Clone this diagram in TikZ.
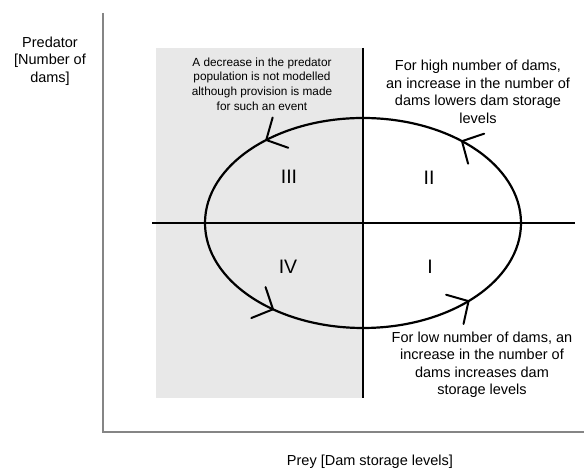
\documentclass[tikz,border=0pt]{standalone}
\usepackage{fontspec}
\setmainfont{Liberation Sans}
\usetikzlibrary{decorations.markings}

\begin{document}
\begin{tikzpicture}[
    x=1pt, y=1pt,
    axis/.style={
        draw=black!48,
        line width=2.6pt
    },
    quadline/.style={
        draw,
        line width=2pt
    },
    barb/.style={
        draw,
        line width=2pt,
        line cap=round
    },
    orbit/.style={
        draw,
        line width=2.2pt,
        postaction={decorate},
        decoration={markings,
            mark=at position 0.127 with {\draw[barb] (-16pt,17pt) -- (0pt,0pt) -- (-16pt,-17pt);},
            mark=at position 0.370 with {\draw[barb] (-16pt,17pt) -- (0pt,0pt) -- (-16pt,-17pt);},
            mark=at position 0.639 with {\draw[barb] (-16pt,17pt) -- (0pt,0pt) -- (-16pt,-17pt);},
            mark=at position 0.882 with {\draw[barb] (-16pt,17pt) -- (0pt,0pt) -- (-16pt,-17pt);}
        }
    },
    numeral/.style={
        font=\fontsize{19.5}{22}\selectfont
    },
    note/.style={
        align=center,
        font=\fontsize{14.5}{17.5}\selectfont
    },
    smallnote/.style={
        align=center,
        font=\fontsize{11.8}{14.8}\selectfont
    }
]
\useasboundingbox (0,0) rectangle (584,470);

% Shaded half
\fill[black!9] (156,72) rectangle (363,422);

% Axes
\coordinate (ytop) at (103,457);
\coordinate (origin) at (103,38);
\coordinate (xend) at (584,38);
\draw[axis] (ytop) -- (origin) -- (xend);

% Quadrant lines
\coordinate (vtop) at (363,422);
\coordinate (vbot) at (363,72);
\coordinate (hleft) at (152,247);
\coordinate (hright) at (575,247);
\draw[quadline] (vtop) -- (vbot);
\draw[quadline] (hleft) -- (hright);

% Cycle
\draw[orbit] (363,247) ellipse [x radius=158, y radius=105];

% Quadrants
\node[numeral] (q3) at (289,293) {III};
\node[numeral] (q2) at (429,292) {II};
\node[numeral] (q4) at (288,203) {IV};
\node[numeral] (q1) at (430,203) {I};

% Axis labels
\node[note] (ylabel) at (50,409)
{Predator\\{[}Number of\\dams]};

\node[note, anchor=base] (xlabel) at (370,4)
{Prey [Dam storage levels]};

% Notes
\node[smallnote] (decrease) at (262,386)
{A decrease in the predator\\population is not modelled\\although provision is made\\for such an event};

\node[note] (highdams) at (478,378)
{For high number of dams,\\an increase in the number of\\dams lowers dam storage\\levels};

\node[note] (lowdams) at (482,105)
{For low number of dams, an\\increase in the number of\\dams increases dam\\storage levels};

\end{tikzpicture}
\end{document}
